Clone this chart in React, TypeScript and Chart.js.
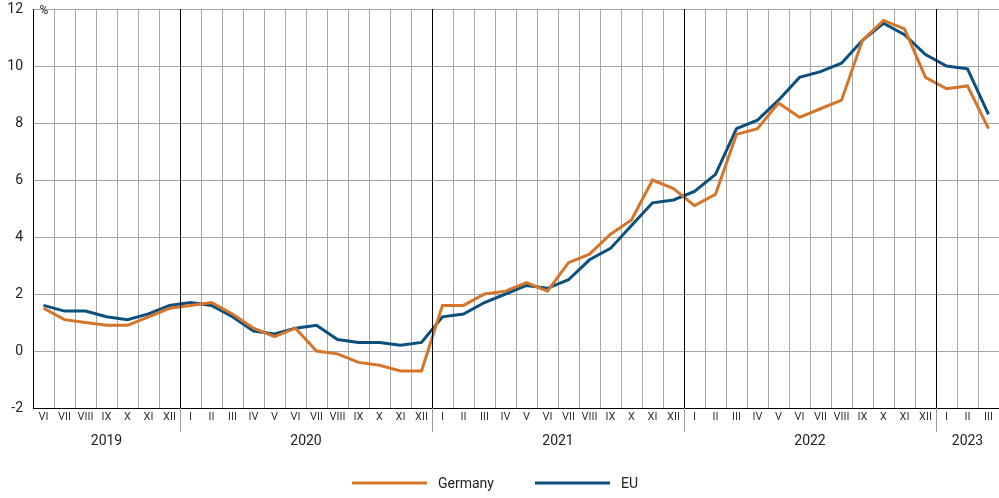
import React, { useEffect, useRef } from "react";
import { Chart, registerables } from "chart.js";

Chart.register(...registerables);

const months = [
  "VI", "VII", "VIII", "IX", "X", "XI", "XII",
  "I", "II", "III", "IV", "V", "VI", "VII", "VIII", "IX", "X", "XI", "XII",
  "I", "II", "III", "IV", "V", "VI", "VII", "VIII", "IX", "X", "XI", "XII",
  "I", "II", "III", "IV", "V", "VI", "VII", "VIII", "IX", "X", "XI", "XII",
  "I", "II", "III",
];

const years = ["2019", "2020", "2021", "2022", "2023"];
const yearStarts = [0, 7, 19, 31, 43];

const germany = [
  1.5, 1.1, 1.0, 0.9, 0.9, 1.2, 1.5,
  1.6, 1.7, 1.3, 0.8, 0.5, 0.8, 0.0, -0.1, -0.4, -0.5, -0.7, -0.7,
  1.6, 1.6, 2.0, 2.1, 2.4, 2.1, 3.1, 3.4, 4.1, 4.6, 6.0, 5.7,
  5.1, 5.5, 7.6, 7.8, 8.7, 8.2, 8.5, 8.8, 10.9, 11.6, 11.3, 9.6,
  9.2, 9.3, 7.8,
];

const eu = [
  1.6, 1.4, 1.4, 1.2, 1.1, 1.3, 1.6,
  1.7, 1.6, 1.2, 0.7, 0.6, 0.8, 0.9, 0.4, 0.3, 0.3, 0.2, 0.3,
  1.2, 1.3, 1.7, 2.0, 2.3, 2.2, 2.5, 3.2, 3.6, 4.4, 5.2, 5.3,
  5.6, 6.2, 7.8, 8.1, 8.8, 9.6, 9.8, 10.1, 10.9, 11.5, 11.1, 10.4,
  10.0, 9.9, 8.3,
];

const seriesNames = ["Germany", "EU"];
const seriesColors = ["#d4752a", "#0b4f7c"];

const FONT = "Roboto, 'Noto Sans', sans-serif";

export default function App() {
  const ref = useRef<HTMLCanvasElement | null>(null);

  useEffect(() => {
    if (!ref.current) return;
    document.body.style.margin = "0";

    const overlay = {
      id: "overlay",
      afterDraw(chart: any) {
        const ctx = chart.ctx;
        const x = chart.scales.x;
        const area = chart.chartArea;
        const half = (x.getPixelForValue(1) - x.getPixelForValue(0)) / 2;
        ctx.save();
        yearStarts.forEach((s) => {
          if (s === 0) return;
          const px = Math.round(x.getPixelForValue(s) - half) + 0.5;
          ctx.strokeStyle = "#000";
          ctx.lineWidth = 1;
          ctx.beginPath();
          ctx.moveTo(px, area.top);
          ctx.lineTo(px, area.bottom);
          ctx.stroke();
          ctx.strokeStyle = "#9a9a9a";
          ctx.beginPath();
          ctx.moveTo(px, area.bottom);
          ctx.lineTo(px, area.bottom + 24);
          ctx.stroke();
        });
        ctx.fillStyle = "#222";
        ctx.font = `14px ${FONT}`;
        ctx.textAlign = "center";
        ctx.textBaseline = "middle";
        years.forEach((y, i) => {
          const s = yearStarts[i];
          const e = i + 1 < yearStarts.length ? yearStarts[i + 1] : months.length;
          const l = x.getPixelForValue(s) - half;
          const r = Math.min(x.getPixelForValue(e - 1) + half, area.right);
          ctx.fillText(y, (l + r) / 2, area.bottom + 33);
        });
        ctx.font = `12px ${FONT}`;
        ctx.textAlign = "center";
        ctx.fillText("%", area.left + 11, area.top + 2);
        const ly = 483;
        const items = [
          { x: 352, name: seriesNames[0], color: seriesColors[0] },
          { x: 535, name: seriesNames[1], color: seriesColors[1] },
        ];
        ctx.font = `14px ${FONT}`;
        ctx.textAlign = "left";
        items.forEach((it) => {
          ctx.strokeStyle = it.color;
          ctx.lineWidth = 3;
          ctx.beginPath();
          ctx.moveTo(it.x, ly);
          ctx.lineTo(it.x + 75, ly);
          ctx.stroke();
          ctx.fillStyle = "#222";
          ctx.fillText(it.name, it.x + 86, ly + 1);
        });
        ctx.restore();
      },
    };

    const chart = new Chart(ref.current, {
      type: "line",
      data: {
        labels: months,
        datasets: [
          {
            label: seriesNames[0],
            data: germany,
            borderColor: seriesColors[0],
            backgroundColor: seriesColors[0],
            borderWidth: 3,
            pointRadius: 0,
            tension: 0,
          },
          {
            label: seriesNames[1],
            data: eu,
            borderColor: seriesColors[1],
            backgroundColor: seriesColors[1],
            borderWidth: 3,
            pointRadius: 0,
            tension: 0,
          },
        ],
      },
      options: {
        animation: false,
        responsive: false,
        devicePixelRatio: 1,
        layout: { padding: { top: 9, right: 0, left: 0, bottom: 0 } },
        plugins: {
          legend: { display: false },
          tooltip: { enabled: false },
        },
        scales: {
          x: {
            type: "category",
            offset: true,
            grid: {
              offset: true,
              color: "#a6a6a6",
              lineWidth: 1,
              drawTicks: false,
            },
            border: { color: "#000", width: 1 },
            ticks: {
              autoSkip: false,
              maxRotation: 0,
              minRotation: 0,
              padding: 3,
              color: "#333",
              font: { family: FONT, size: 11 },
            },
            afterFit(scale: any) {
              scale.height = 90;
              scale.paddingLeft = 0;
              scale.paddingRight = 0;
            },
          },
          y: {
            min: -2,
            max: 12,
            ticks: {
              stepSize: 2,
              padding: 10,
              color: "#222",
              font: { family: FONT, size: 14 },
            },
            grid: { color: "#a6a6a6", lineWidth: 1, drawTicks: false },
            border: { color: "#000", width: 1 },
            afterFit(scale: any) {
              scale.width = 33;
              scale.paddingTop = 0;
              scale.paddingBottom = 0;
            },
          },
        },
      },
      plugins: [overlay],
    });
    return () => chart.destroy();
  }, []);

  return (
    <div style={{ position: "absolute", left: 0, top: 0, width: 999, height: 498 }}>
      <canvas ref={ref} width={999} height={498} style={{ width: 999, height: 498 }} />
    </div>
  );
}
